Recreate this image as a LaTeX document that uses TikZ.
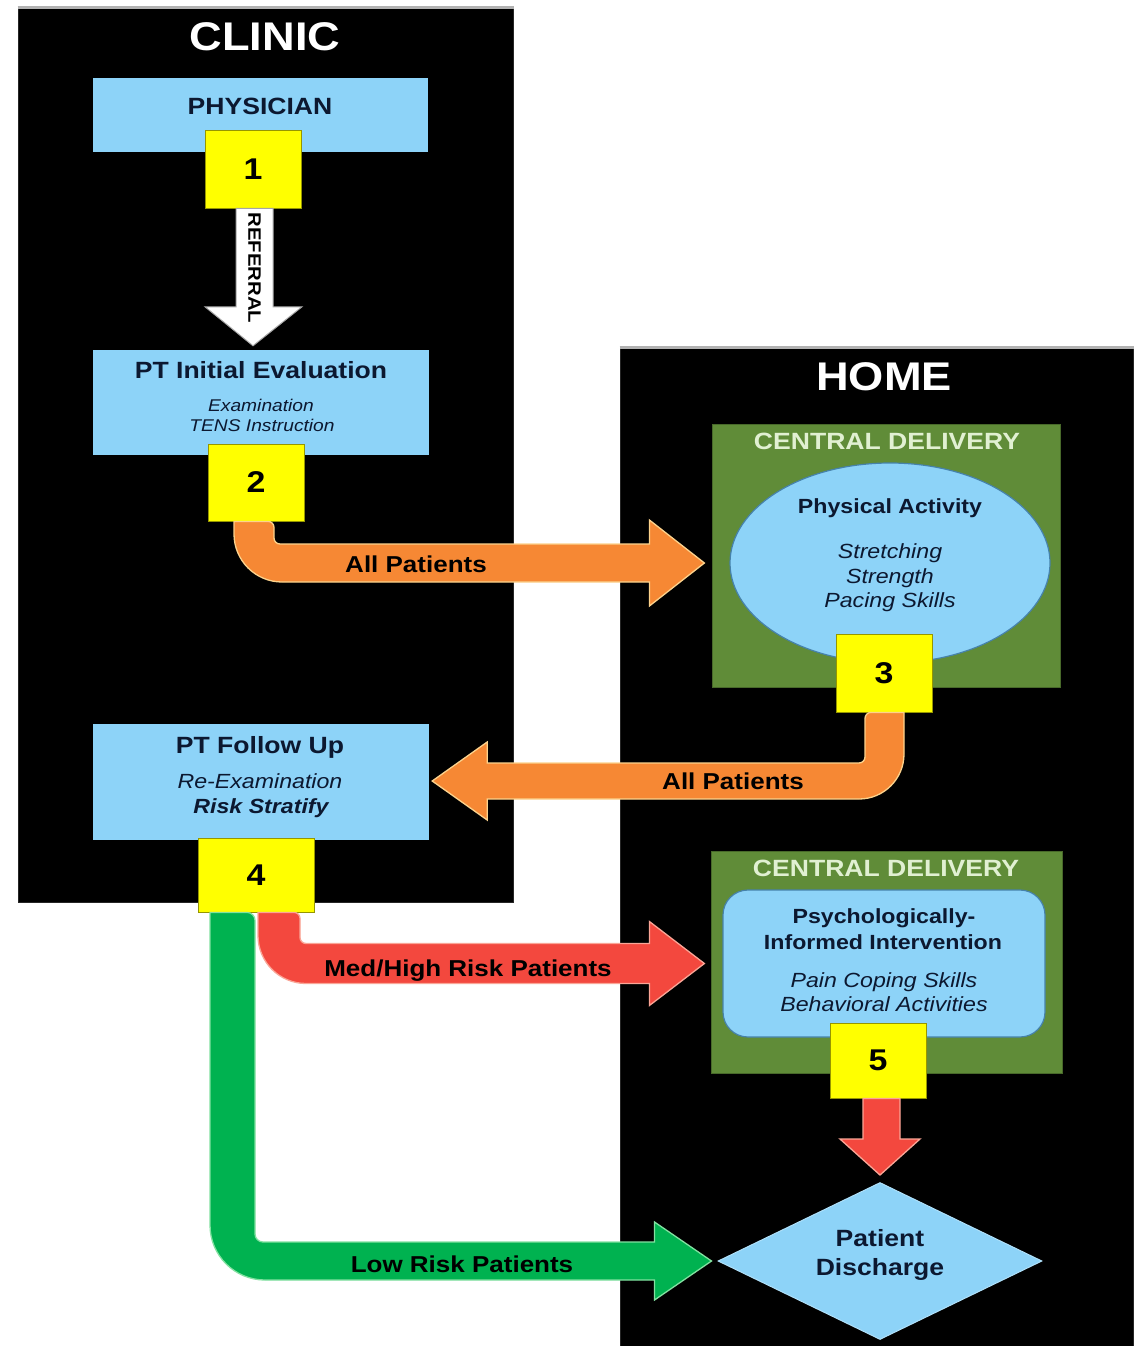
\documentclass[tikz,border=0pt]{standalone}
\usepackage{fontspec}
\setmainfont{Liberation Sans}[FakeStretch=1.13]
\usetikzlibrary{calc,shapes.geometric}
\newcommand\myfs[1]{\fontsize{#1}{#1}\selectfont}
\definecolor{lblue}{RGB}{141,211,248}
\definecolor{ink}{RGB}{12,24,48}
\definecolor{yel}{RGB}{255,255,0}
\definecolor{yelB}{RGB}{150,150,0}
\definecolor{gboxc}{RGB}{96,140,56}
\definecolor{gtext}{RGB}{225,240,210}
\definecolor{bordB}{RGB}{70,130,170}
\definecolor{orA}{RGB}{246,136,52}
\definecolor{orB}{RGB}{252,210,140}
\definecolor{rdA}{RGB}{243,72,62}
\definecolor{rdB}{RGB}{250,165,150}
\definecolor{grA}{RGB}{0,178,80}
\definecolor{grB}{RGB}{130,225,160}
\begin{document}
\begin{tikzpicture}[x=1pt,y=-1pt,
  panel/.style={rectangle, fill=black, draw=black!85, line width=1pt, inner sep=0pt},
  panelTop/.style={draw=gray!60, line width=2.5pt},
  box/.style={rectangle, fill=lblue, inner sep=0pt},
  gbox/.style={rectangle, fill=gboxc, draw=gboxc!75!black, line width=1pt, inner sep=0pt},
  ybox/.style={rectangle, fill=yel, draw=yelB, line width=0.8pt, inner sep=0pt, font=\myfs{30}\bfseries, text=black},
  title/.style={anchor=base, inner sep=0pt, font=\myfs{40}\bfseries, text=white},
  cdt/.style={anchor=base, inner sep=0pt, font=\myfs{23.5}\bfseries, text=gtext},
  tl/.style={anchor=base, inner sep=0pt, text=ink},
  hb/.style={tl, font=\myfs{23.5}\bfseries},
  sb/.style={tl, font=\myfs{20.5}\bfseries},
  si/.style={tl, font=\myfs{20.5}\itshape},
  al/.style={anchor=base, inner sep=0pt, font=\myfs{23}\bfseries, text=black},
  arrO/.style={fill=orA, draw=orB, line width=1.3pt},
  arrR/.style={fill=rdA, draw=rdB, line width=1.3pt},
  arrG/.style={fill=grA, draw=grB, line width=1.3pt},
  arrW/.style={fill=white, draw=gray!70, line width=1pt}]
\useasboundingbox (0,0) rectangle (1133,1346);
\fill[white] (0,0) rectangle (1133,1346);

% panels
\node[panel, minimum width=495pt, minimum height=894pt] (clinic) at (265.5,455) {};
\node[panel, minimum width=513pt, minimum height=998pt] (home) at (876.5,847) {};
\draw[panelTop] (clinic.north west) -- (clinic.north east);
\draw[panelTop] (home.north west) -- (home.north east);
\node[title] (clinicT) at (265,51) {CLINIC};
\node[title] (homeT) at (884,390) {HOME};

% clinic boxes
\node[box, minimum width=335pt, minimum height=74pt] (phys) at (260.5,115) {};
\node[hb] (physT) at (260,114.5) {PHYSICIAN};
\node[box, minimum width=336pt, minimum height=105pt] (ptie) at (261,402.5) {};
\node[hb] (ptieT) at (261,378.5) {PT Initial Evaluation};
\node[tl, font=\myfs{17}\itshape] (ptieA) at (261,411) {Examination};
\node[tl, font=\myfs{17}\itshape] (ptieB) at (262,431) {TENS Instruction};
\node[box, minimum width=336pt, minimum height=116pt] (ptf) at (261,782) {};
\node[hb] (ptfT) at (260,753) {PT Follow Up};
\node[si] (ptfA) at (260,788) {Re-Examination};
\node[tl, font=\myfs{20.5}\bfseries\itshape] (ptfB) at (261,813) {Risk Stratify};

% home boxes
\node[gbox, minimum width=348pt, minimum height=263pt] (cd1) at (886,555.5) {};
\node[cdt] (cd1T) at (887,449.5) {CENTRAL DELIVERY};
\node[ellipse, fill=lblue, draw=bordB, line width=1.2pt, inner sep=0pt, minimum width=320pt, minimum height=200pt] (ell) at (890,563) {};
\node[sb] (ellT) at (890,513) {Physical Activity};
\node[si] (ellA) at (890,558) {Stretching};
\node[si] (ellB) at (890,583) {Strength};
\node[si] (ellC) at (890,607) {Pacing Skills};

\node[gbox, minimum width=351pt, minimum height=222pt] (cd2) at (886.5,962) {};
\node[cdt] (cd2T) at (886,876.5) {CENTRAL DELIVERY};
\node[box, rounded corners=25pt, draw=bordB, line width=1.2pt, minimum width=322pt, minimum height=147pt] (pii) at (884,963.5) {};
\node[sb] (piiT1) at (884,923) {Psychologically-};
\node[sb] (piiT2) at (883,949) {Informed Intervention};
\node[si] (piiA) at (884,987) {Pain Coping Skills};
\node[si] (piiB) at (884,1011) {Behavioral Activities};

\node[diamond, aspect=2, fill=lblue, draw=lblue!70!white, line width=1pt, inner sep=0pt, minimum width=324pt, minimum height=157pt] (dis) at (880,1261) {};
\node[hb] (disA) at (880,1246) {Patient};
\node[hb] (disB) at (880,1275) {Discharge};

% step squares
\node[ybox, minimum width=96pt, minimum height=78pt] (y1) at (253,169) {1};
\node[ybox, minimum width=96pt, minimum height=77pt] (y2) at (256,482.5) {2};
\node[ybox, minimum width=96pt, minimum height=78pt] (y3) at (884,673) {3};
\node[ybox, minimum width=116pt, minimum height=74pt] (y4) at (256,875) {4};
\node[ybox, minimum width=96pt, minimum height=75pt] (y5) at (878,1060.5) {5};

% referral arrow
\filldraw[arrW] let \p1=(y1.south), \p2=(ptie.north) in
  (\x1-17,\y1) -- (\x1-17,\y2+43) -- (\x1-48,\y2+43) -- (\x1,\y2+4)
  -- (\x1+49,\y2+43) -- (\x1+20,\y2+43) -- (\x1+20,\y1) -- cycle;
\node[inner sep=0pt, rotate=-90, font=\myfs{18}\bfseries, text=black] (refT) at (254.5,268) {REFERRAL};

% arrow 2 -> physical activity
\coordinate (a1tip) at ($(ell.west)+(-25,0)$);
\filldraw[arrO] let \p1=(y2.south), \p2=(a1tip) in
  [rounded corners=48pt] (\x1-22,\y1) |- (\x2-150,\y2-19)
  [sharp corners] -- (\x2-55,\y2-19) -- (\x2-55,\y2-43) -- (\p2) -- (\x2-55,\y2+43) -- (\x2-55,\y2+19)
  -- (\x2-150,\y2+19) [rounded corners=6pt] -| (\x1+18,\y1) [sharp corners] -- cycle;
\node[al] (a1L) at (416,572) {All Patients};

% arrow 3 -> follow up
\coordinate (a2tip) at ($(ptf.east)+(3,-1)$);
\filldraw[arrO] let \p1=(y3.south), \p2=(a2tip) in
  [rounded corners=45pt] (\x1+20,\y1) |- (\x2+150,\y2-18)
  [sharp corners] -- (\x2+55,\y2-18) -- (\x2+55,\y2-39) -- (\p2) -- (\x2+55,\y2+39) -- (\x2+55,\y2+18)
  -- (\x2+150,\y2+18) [rounded corners=6pt] -| (\x1-19,\y1) [sharp corners] -- cycle;
\node[al] (a2L) at (733,789) {All Patients};

% arrow 4 -> psychologically informed (red)
\coordinate (a3tip) at ($(pii.west)+(-18,0)$);
\filldraw[arrR] let \p1=(y4.south), \p2=(a3tip) in
  [rounded corners=48pt] (\x1+2,\y1) |- (\x2-150,\y2-20)
  [sharp corners] -- (\x2-55,\y2-20) -- (\x2-55,\y2-42) -- (\p2) -- (\x2-55,\y2+42) -- (\x2-55,\y2+20)
  -- (\x2-150,\y2+20) [rounded corners=6pt] -| (\x1+44,\y1) [sharp corners] -- cycle;
\node[al] (a3L) at (468,976) {Med/High Risk Patients};

% arrow 4 -> discharge (green)
\coordinate (a4tip) at ($(dis.west)+(-6,0)$);
\filldraw[arrG] let \p1=(y4.south), \p2=(a4tip) in
  [rounded corners=55pt] (\x1-46,\y1) |- (\x2-150,\y2-19)
  [sharp corners] -- (\x2-57,\y2-19) -- (\x2-57,\y2-39) -- (\p2) -- (\x2-57,\y2+39) -- (\x2-57,\y2+19)
  -- (\x2-150,\y2+19) [rounded corners=8pt] -| (\x1-1,\y1) [sharp corners] -- cycle;
\node[al] (a4L) at (462,1272) {Low Risk Patients};

% arrow 5 -> discharge (red)
\coordinate (a5tip) at ($(dis.north)+(0,-7)$);
\filldraw[arrR] let \p1=(y5.south), \p2=(a5tip) in
  (\x2-17,\y1) -- (\x2-17,\y2+36) -- (\x2-40,\y2+36) -- (\p2)
  -- (\x2+40,\y2+36) -- (\x2+20,\y2+36) -- (\x2+20,\y1) -- cycle;
\end{tikzpicture}
\end{document}
